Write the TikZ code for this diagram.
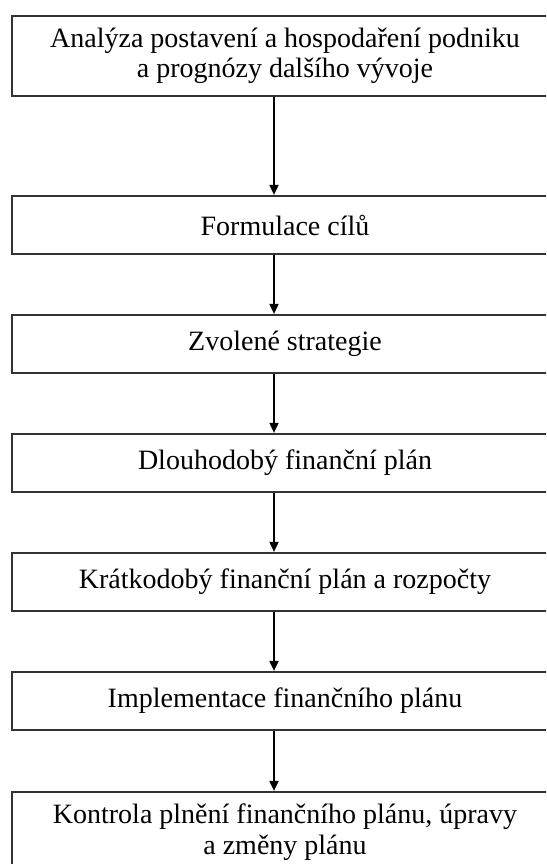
\documentclass[tikz,border=0pt]{standalone}
\usepackage{fontspec}
\setmainfont{Liberation Serif}
\usetikzlibrary{arrows.meta}

\begin{document}
\begin{tikzpicture}[x=1pt,y=1pt,
  krok/.style={draw=black!80,line width=2.2pt,align=center,inner sep=0pt,
    minimum width=546pt,minimum height=58pt,
    font=\fontsize{28}{30.5}\selectfont},
  sipka/.style={-{Triangle[length=10pt,width=9pt]},line width=1.8pt,draw=black}]

\clip (0,0) rectangle (546,-864);

% 1
\node[krok,minimum height=80pt] (K1) at (285,-56) {Analýza postavení a hospodaření podniku\\a prognózy dalšího vývoje};

% 2
\node[krok] (K2) at (285,-225) {Formulace cílů};
\node[krok] (K3) at (285,-344) {Zvolené strategie};
\node[krok] (K4) at (285,-463) {Dlouhodobý finanční plán};
\node[krok] (K5) at (285,-582) {Krátkodobý finanční plán a rozpočty};
\node[krok] (K6) at (285,-701) {Implementace finančního plánu};

% 3
\node[krok,minimum height=80pt] (K7) at (285,-832) {Kontrola plnění finančního plánu, úpravy\\a změny plánu};

\coordinate (osa) at (274,0);

\draw[sipka] (K1.south -| osa) -- (K2.north -| osa);
\draw[sipka] (K2.south -| osa) -- (K3.north -| osa);
\draw[sipka] (K3.south -| osa) -- (K4.north -| osa);
\draw[sipka] (K4.south -| osa) -- (K5.north -| osa);
\draw[sipka] (K5.south -| osa) -- (K6.north -| osa);
\draw[sipka] (K6.south -| osa) -- (K7.north -| osa);

\end{tikzpicture}
\end{document}
